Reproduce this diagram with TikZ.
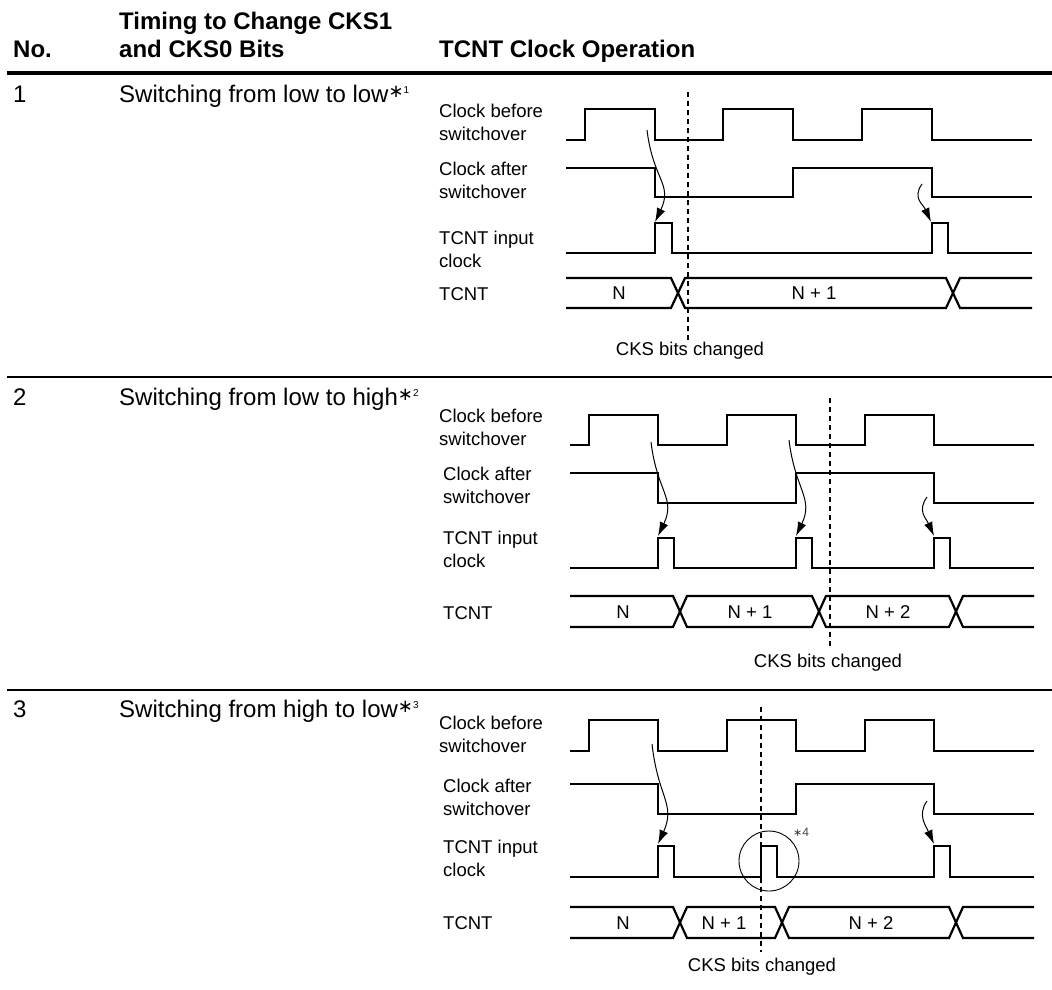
\documentclass[tikz,border=0pt]{standalone}
\usepackage{fontspec}
\setmainfont{Liberation Sans}
\newfontfamily\symfont{DejaVu Sans}
\usetikzlibrary{arrows.meta}

\newcommand{\nota}[1]{\raisebox{5pt}{\symfont\fontsize{18}{18}\selectfont ∗}\raisebox{9pt}{\fontsize{10}{10}\selectfont #1}}

\begin{document}
\begin{tikzpicture}
  [x=1pt, y=-1pt,
   wave/.style={line width=2.2pt, line join=miter},
   cause/.style={line width=1pt, -{Latex[length=14pt,width=9pt]}},
   marker/.style={line width=1.2pt, dash pattern=on 5pt off 4pt},
   rowrule/.style={line width=2.6pt},
   headtext/.style={anchor=base west, inner sep=0pt, font=\fontsize{24}{28}\selectfont\bfseries},
   rowtext/.style={anchor=base west, inner sep=0pt, font=\fontsize{24}{28}\selectfont},
   siglabel/.style={anchor=west, inner sep=0pt, align=left, font=\fontsize{18.5}{23}\selectfont},
   buslabel/.style={inner sep=0pt, font=\fontsize{18.5}{23}\selectfont}]

  \useasboundingbox (0,0) rectangle (1052,989);

  % Encabezado
  \node[headtext] (hdno) at (13,57) {No.};
  \node[headtext] (hdtim1) at (119,29) {Timing to Change CKS1};
  \node[headtext] (hdtim2) at (119,57) {and CKS0 Bits};
  \node[headtext] (hdop) at (439,57) {TCNT Clock Operation};
  \draw[line width=4pt] (7,73) -- (1052,73);
  \draw[rowrule] (7,377) -- (1052,377);
  \draw[rowrule] (7,690) -- (1052,690);

  % Caso 1
  \node[rowtext] (num1) at (13,102) {1};
  \node[rowtext] (txt1) at (119,102) {Switching from low to low\nota{1}};
  \node[siglabel] (cb1) at (439,122.5) {Clock before\\switchover};
  \node[siglabel] (ca1) at (439,180.5) {Clock after\\switchover};
  \node[siglabel] (ic1) at (439,249.5) {TCNT input\\clock};
  \node[siglabel] (tc1) at (439,294) {TCNT};

  \draw[wave] (566,140) -| (585,109) -| (655,140) -| (723,109) -| (793,140) -| (862,109) -| (932,140) -- (1032,140);
  \draw[wave] (566,168) -| (655,197) -| (793,168) -| (932,197) -- (1032,197);
  \draw[wave] (566,253) -| (655,223) -| (672,253) -| (932,223) -| (948,253) -- (1032,253);
  \draw[wave] (566,278) -- (671,278) -- (685,308) -- (946,308) -- (960,278) -- (1032,278);
  \draw[wave] (566,308) -- (671,308) -- (685,278) -- (946,278) -- (960,308) -- (1032,308);
  \node[buslabel] (v1a) at (619,293) {N};
  \node[buslabel] (v1b) at (814,293) {N + 1};

  \coordinate (m1) at (688,92);
  \node[buslabel] (cks1) at (690,351) {CKS bits changed};
  \draw[marker] (m1) -- (m1 |- cks1.north);

  \coordinate (a1s) at (647,130);
  \coordinate (a1e) at (655,222);
  \coordinate (a2s) at (922,184);
  \coordinate (a2e) at (931,222);
  \draw[cause] (a1s) .. controls +(6,50) and +(18,-38) .. (a1e);
  \draw[cause] (a2s) .. controls +(-10,14) and +(-8,-18) .. (a2e);

  % Caso 2
  \node[rowtext] (num2) at (13,405) {2};
  \node[rowtext] (txt2) at (119,405) {Switching from low to high\nota{2}};
  \node[siglabel] (cb2) at (439,427) {Clock before\\switchover};
  \node[siglabel] (ca2) at (443,485.5) {Clock after\\switchover};
  \node[siglabel] (ic2) at (443,549.5) {TCNT input\\clock};
  \node[siglabel] (tc2) at (443,613) {TCNT};

  \draw[wave] (570,445) -| (589,415) -| (658,445) -| (727,415) -| (796,445) -| (865,415) -| (934,445) -- (1034,445);
  \draw[wave] (570,473) -| (658,503) -| (796,473) -| (934,503) -- (1034,503);
  \draw[wave] (570,568) -| (658,538) -| (674,568) -| (796,538) -| (812,568) -| (934,538) -| (950,568) -- (1034,568);
  \draw[wave] (570,596) -- (673,596) -- (687,627) -- (812,627) -- (826,596) -- (949,596) -- (963,627) -- (1034,627);
  \draw[wave] (570,627) -- (673,627) -- (687,596) -- (812,596) -- (826,627) -- (949,627) -- (963,596) -- (1034,596);
  \node[buslabel] (v2a) at (623,612) {N};
  \node[buslabel] (v2b) at (750,612) {N + 1};
  \node[buslabel] (v2c) at (888,612) {N + 2};

  \coordinate (m2) at (830,398);
  \node[buslabel] (cks2) at (828,663) {CKS bits changed};
  \draw[marker, shorten >=8pt] (m2) -- (m2 |- cks2.north);

  \coordinate (b1s) at (651,442);
  \coordinate (b1e) at (658,536);
  \coordinate (b2s) at (789,440);
  \coordinate (b2e) at (796,536);
  \coordinate (b3s) at (927,497);
  \coordinate (b3e) at (934,536);
  \draw[cause] (b1s) .. controls +(6,50) and +(18,-38) .. (b1e);
  \draw[cause] (b2s) .. controls +(6,50) and +(18,-38) .. (b2e);
  \draw[cause] (b3s) .. controls +(-10,14) and +(-8,-18) .. (b3e);

  % Caso 3
  \node[rowtext] (num3) at (13,717) {3};
  \node[rowtext] (txt3) at (119,717) {Switching from high to low\nota{3}};
  \node[siglabel] (cb3) at (439,734) {Clock before\\switchover};
  \node[siglabel] (ca3) at (443,797) {Clock after\\switchover};
  \node[siglabel] (ic3) at (443,858.5) {TCNT input\\clock};
  \node[siglabel] (tc3) at (443,923) {TCNT};

  \draw[wave] (570,751) -| (589,720) -| (658,751) -| (727,720) -| (796,751) -| (865,720) -| (934,751) -- (1034,751);
  \draw[wave] (570,784) -| (658,814) -| (796,784) -| (934,814) -- (1034,814);
  \draw[wave] (570,877) -| (658,846) -| (674,877) -| (761,846) -| (777,877) -| (934,846) -| (950,877) -- (1034,877);
  \draw[wave] (570,907) -- (673,907) -- (687,938) -- (775,938) -- (789,907) -- (949,907) -- (963,938) -- (1034,938);
  \draw[wave] (570,938) -- (673,938) -- (687,907) -- (775,907) -- (789,938) -- (949,938) -- (963,907) -- (1034,907);
  \node[buslabel] (v3a) at (623,923) {N};
  \node[buslabel] (v3b) at (724,923) {N + 1};
  \node[buslabel] (v3c) at (871,923) {N + 2};

  \coordinate (m3) at (761,707);
  \node[buslabel] (cks3) at (762,967) {CKS bits changed};
  \draw[marker, shorten >=6pt] (m3) -- (m3 |- cks3.north);

  \draw[line width=0.9pt] (769,861) circle[radius=30pt];
  \node[inner sep=0pt, text=black!75] (nota4) at (801,832)
    {{\symfont\fontsize{11}{11}\selectfont ∗}{\fontsize{12}{12}\selectfont 4}};

  \coordinate (c1s) at (652,744);
  \coordinate (c1e) at (658,844);
  \coordinate (c3s) at (927,801);
  \coordinate (c3e) at (934,844);
  \draw[cause] (c1s) .. controls +(6,54) and +(18,-40) .. (c1e);
  \draw[cause] (c3s) .. controls +(-10,14) and +(-8,-18) .. (c3e);
\end{tikzpicture}
\end{document}
